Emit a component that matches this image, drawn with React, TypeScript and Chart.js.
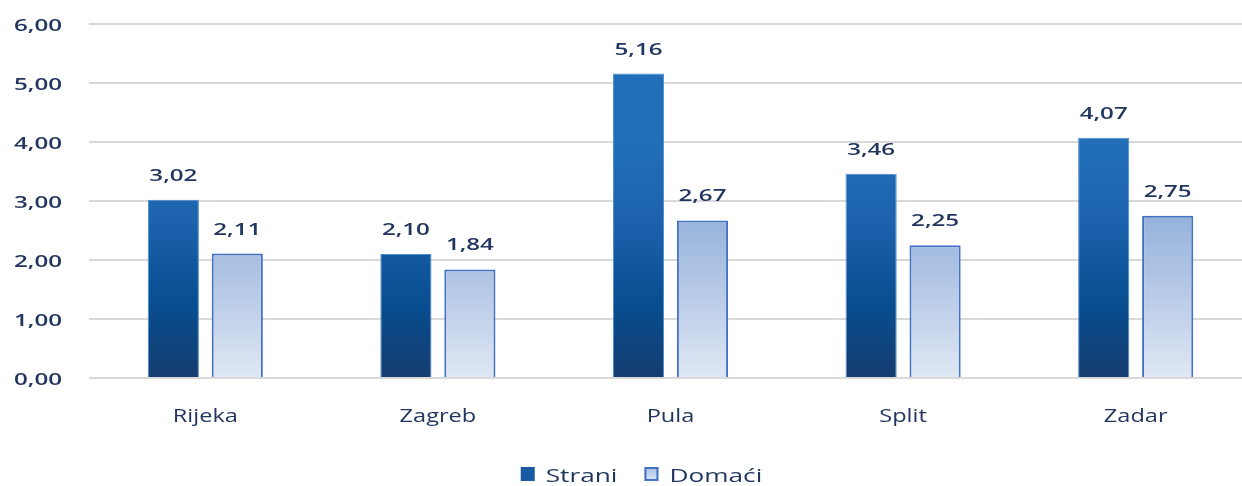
import React, { useEffect, useRef } from "react";
import { Chart, registerables } from "chart.js";

Chart.register(...registerables);

const categories = ["Rijeka", "Zagreb", "Pula", "Split", "Zadar"];
const strani = [3.02, 2.1, 5.16, 3.46, 4.07];
const domaci = [2.11, 1.84, 2.67, 2.25, 2.75];
const seriesNames = ["Strani", "Domaći"];
const yTicks = [0, 1, 2, 3, 4, 5, 6];

const TEXT = "#22365f";
const FONT = "'Open Sans', 'Noto Sans', sans-serif";

const fmt = (v: number) => v.toFixed(2).replace(".", ",");

// draw text horizontally stretched (the reference glyphs are wide)
const drawText = (
  ctx: CanvasRenderingContext2D,
  text: string,
  x: number,
  y: number,
  sx: number,
  align: CanvasTextAlign
) => {
  ctx.save();
  ctx.translate(x, y);
  ctx.scale(sx, 1);
  ctx.textAlign = align;
  ctx.textBaseline = "alphabetic";
  ctx.fillText(text, 0, 0);
  ctx.restore();
};

const customPlugin = {
  id: "customDraw",
  beforeDatasetsDraw(chart: any) {
    const ctx = chart.ctx;
    chart.data.datasets.forEach((ds: any, di: number) => {
      const meta = chart.getDatasetMeta(di);
      meta.data.forEach((el: any) => {
        const g = ctx.createLinearGradient(0, el.y, 0, el.base);
        if (di === 0) {
          g.addColorStop(0, "#216fb8");
          g.addColorStop(0.35, "#1d62ad");
          g.addColorStop(0.7, "#074d8f");
          g.addColorStop(1, "#163d70");
        } else {
          g.addColorStop(0, "#95b2db");
          g.addColorStop(0.5, "#b9cbe7");
          g.addColorStop(1, "#dfe7f4");
        }
        el.options.backgroundColor = g;
      });
    });
  },
  afterDatasetsDraw(chart: any) {
    const ctx = chart.ctx;
    const area = chart.chartArea;
    ctx.save();
    ctx.fillStyle = TEXT;

    // value labels
    ctx.font = `600 17px ${FONT}`;
    chart.data.datasets.forEach((ds: any, di: number) => {
      const meta = chart.getDatasetMeta(di);
      meta.data.forEach((el: any, i: number) => {
        drawText(ctx, fmt(ds.data[i]), el.x, el.y - 19, 1.42, "center");
      });
    });

    // y-axis tick labels
    const ys = chart.scales.y;
    yTicks.forEach((t) => {
      drawText(ctx, fmt(t), 62, ys.getPixelForValue(t) + 7, 1.42, "right");
    });

    // x-axis category labels
    const xs = chart.scales.x;
    ctx.font = `400 19px ${FONT}`;
    categories.forEach((c, i) => {
      drawText(ctx, c, xs.getPixelForTick(i), area.bottom + 44, 1.24, "center");
    });

    // legend
    const sx = 1.38;
    const box = 14;
    const gapBoxText = 11;
    const gapItems = 27;
    const w0 = ctx.measureText(seriesNames[0]).width * sx;
    const w1 = ctx.measureText(seriesNames[1]).width * sx;
    const total = box + gapBoxText + w0 + gapItems + box + gapBoxText + w1;
    let x = 641.5 - total / 2;
    const cy = 474;
    const baseline = 482;
    // Strani key
    ctx.fillStyle = "#1a5aa3";
    ctx.fillRect(x, cy - box / 2, box, box);
    ctx.fillStyle = TEXT;
    x += box + gapBoxText;
    drawText(ctx, seriesNames[0], x, baseline, sx, "left");
    x += w0 + gapItems;
    // Domaći key
    const g = ctx.createLinearGradient(0, cy - box / 2, 0, cy + box / 2);
    g.addColorStop(0, "#a9c0e3");
    g.addColorStop(1, "#dce5f3");
    ctx.fillStyle = g;
    ctx.fillRect(x, cy - box / 2, box, box);
    ctx.strokeStyle = "#4472c4";
    ctx.lineWidth = 2;
    ctx.strokeRect(x + 1, cy - box / 2 + 1, box - 2, box - 2);
    ctx.fillStyle = TEXT;
    x += box + gapBoxText;
    drawText(ctx, seriesNames[1], x, baseline, sx, "left");

    ctx.restore();
  },
};

export default function App() {
  const ref = useRef<HTMLCanvasElement>(null);
  useEffect(() => {
    if (!ref.current) return;
    const chart = new Chart(ref.current, {
      type: "bar",
      data: {
        labels: categories,
        datasets: [
          {
            label: seriesNames[0],
            data: strani,
            backgroundColor: "#1d62ad",
            borderColor: "#4a8bd0",
            borderWidth: 1,
            categoryPercentage: 0.55,
            barPercentage: 0.8,
          },
          {
            label: seriesNames[1],
            data: domaci,
            backgroundColor: "#b9cbe7",
            borderColor: "#4472c4",
            borderWidth: 2,
            categoryPercentage: 0.55,
            barPercentage: 0.8,
          },
        ],
      },
      options: {
        responsive: false,
        animation: false,
        layout: { padding: { top: 24, left: 0, right: 0, bottom: 48 } },
        plugins: {
          tooltip: { enabled: false },
          legend: { display: false },
        },
        scales: {
          x: {
            grid: { display: false },
            border: { display: false },
            afterFit: (s: any) => {
              s.height = 60;
            },
            ticks: { display: false },
          },
          y: {
            min: 0,
            max: 6,
            afterFit: (s: any) => {
              s.width = 89;
            },
            grid: { color: "#d9d9d9", lineWidth: 2, drawTicks: false },
            border: { display: false },
            ticks: { stepSize: 1, display: false },
          },
        },
      },
      plugins: [customPlugin],
    });
    return () => chart.destroy();
  }, []);
  return (
    <div
      style={{
        position: "fixed",
        left: 0,
        top: 0,
        width: 1242,
        height: 486,
        overflow: "hidden",
        background: "#fff",
      }}
    >
      <canvas ref={ref} width={1252} height={486} style={{ display: "block" }} />
    </div>
  );
}
